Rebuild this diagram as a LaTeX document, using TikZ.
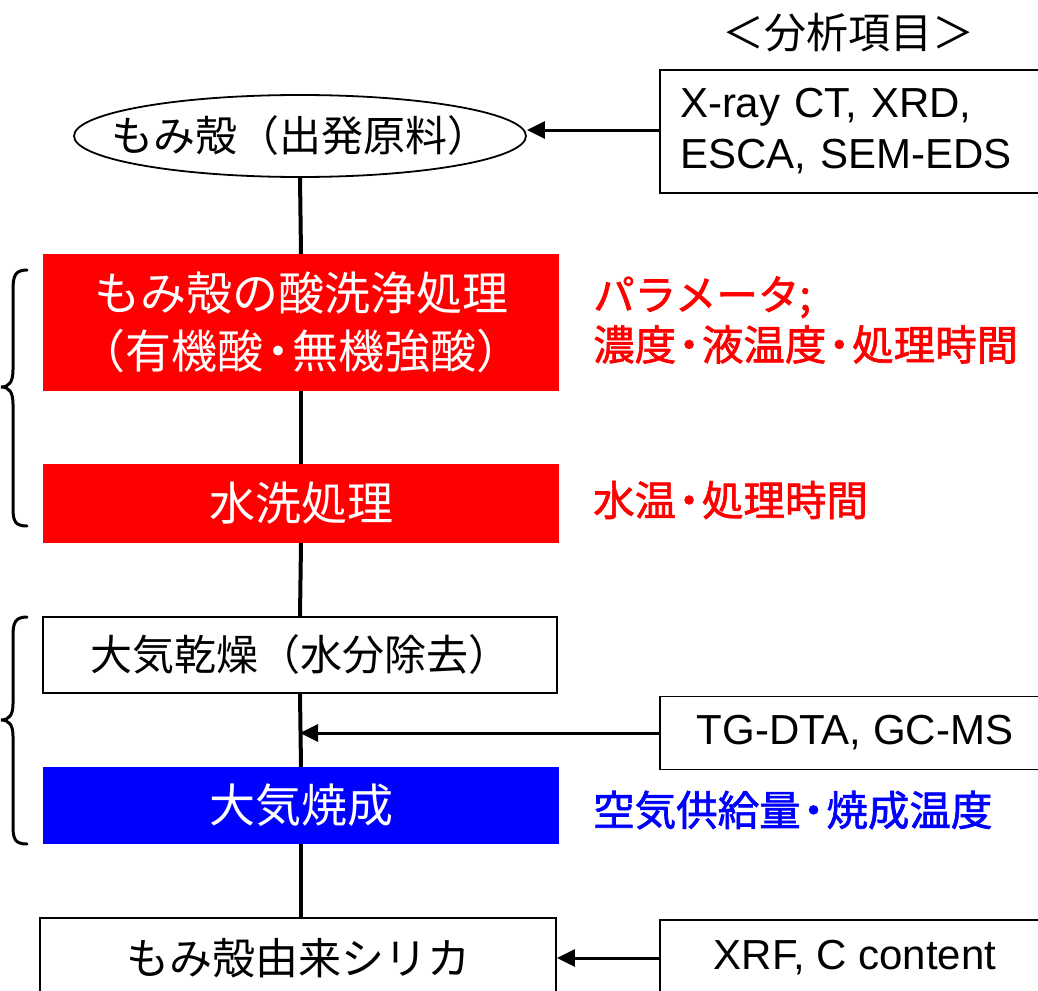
\documentclass[tikz,border=0pt]{standalone}
\usepackage{fontspec}
\setmainfont{Liberation Sans}
\newfontfamily\jp{Noto Sans CJK JP}
\newfontfamily\jpb[FakeBold=1.6]{Noto Sans CJK JP}
\newcommand{\ndot}{\hbox to 0.62em{\hss ・\hss}}
\newcommand{\nlp}{\hbox to 0.7em{\hss （}}
\newcommand{\nrp}{\hbox to 0.7em{）\hss}}
\usetikzlibrary{arrows.meta,shapes.geometric}
\definecolor{pred}{RGB}{255,0,0}
\definecolor{pblue}{RGB}{0,0,255}
\begin{document}
\begin{tikzpicture}[x=1pt,y=-1pt,
  flow/.style={draw=black, line width=1.8pt, inner sep=0pt, minimum width=514pt, font=\fontsize{42}{58}\selectfont\jp, align=center},
  redflow/.style={flow, draw=pred, fill=pred, text=white, font=\fontsize{46}{58}\selectfont\jp},
  blueflow/.style={flow, draw=pblue, fill=pblue, text=white, font=\fontsize{46}{58}\selectfont\jp},
  anal/.style={draw=black, line width=1.8pt, inner sep=0pt, minimum width=390pt, font=\fontsize{42}{51}\selectfont},
  param/.style={anchor=west, inner sep=0pt, font=\fontsize{41.5}{50}\selectfont\jpb, align=left},
  conn/.style={line width=4pt, draw=black},
  arr/.style={line width=3pt, draw=black, -{Triangle[length=18pt,width=17pt]}},
  brace/.style={line width=3pt, draw=black, line cap=round}
]
\useasboundingbox (0,0) rectangle (1038,990);

% title
\node[inner sep=0pt, font=\fontsize{42}{50}\selectfont\jp] (title) at (848,33) {＜分析項目＞};

% main flow
\node[draw=black, line width=1.8pt, ellipse, minimum width=452pt, minimum height=82pt, inner sep=0pt] (raw) at (300,136) {};
\node[inner sep=0pt, font=\fontsize{42}{50}\selectfont\jp] (rawtext) at (raw.center) {もみ殻（出発原料）};
\node[redflow, minimum height=135pt] (acid) at (301,322.5) {もみ殻の酸洗浄処理\\\nlp 有機酸\ndot 無機強酸\nrp};
\node[redflow, minimum height=77pt] (wash) at (301,503.5) {水洗処理};
\node[flow, fill=white, minimum height=76pt] (dry) at (300,655) {大気乾燥（水分除去）};
\node[blueflow, minimum height=75pt] (burn) at (301,805.5) {大気焼成};
\node[flow, fill=white, minimum width=516pt, minimum height=90pt] (silica) at (298,963) {};
\node[inner sep=0pt, font=\fontsize{43}{50}\selectfont\jp] (silicatext) at (298,958) {もみ殻由来シリカ};

% analysis boxes
\node[anal, minimum height=123pt, text width=350pt, inner xsep=20pt, align=left] (xray) at (855,131.5) {\raisebox{-3pt}{X-ray CT, XRD,}\\\raisebox{-3pt}{ESCA, SEM-EDS}};
\node[anal, minimum height=73pt] (tg) at (855,733) {TG-DTA, GC-MS};
\node[anal, minimum height=90pt] (xrf) at (855,965) {};
\node[inner sep=0pt, font=\fontsize{42}{50}\selectfont] (xrftext) at (855,958) {XRF, C content};

% parameters
\node[param, text=pred] (p1) at (593,320) {パラメータ;\\濃度\ndot 液温度\ndot 処理時間};
\node[param, text=pred] (p2) at (593,500) {水温\ndot 処理時間};
\node[param, text=pblue] (p3) at (593,810) {空気供給量\ndot 焼成温度};

% connectors
\draw[conn] (raw.south) -- (acid.north);
\draw[conn] (acid.south) -- (wash.north);
\draw[conn] (wash.south) -- (dry.north);
\draw[conn] (dry.south) -- (burn.north);
\draw[conn] (burn.south) -- (silica.north -| burn.south);

\coordinate (xa) at (660,130);
\draw[arr] (xa) -- (xa -| raw.east);
\draw[arr] (tg.west) -- (tg.west -| dry.south);
\coordinate (xb) at (660,958);
\draw[arr] (xb) -- (xb -| silica.east);

% braces
\draw[brace] (27,270) .. controls (15,270) and (13,276) .. (13,290) -- (13,370) .. controls (13,382) and (9,387) .. (1,387) .. controls (9,387) and (13,392) .. (13,404) -- (13,508) .. controls (13,521) and (15,526) .. (27,526);
\draw[brace] (27,617) .. controls (15,617) and (13,623) .. (13,636) -- (13,704) .. controls (13,715) and (9,720) .. (1,720) .. controls (9,720) and (13,725) .. (13,736) -- (13,826) .. controls (13,839) and (15,844) .. (27,844);
\end{tikzpicture}
\end{document}
